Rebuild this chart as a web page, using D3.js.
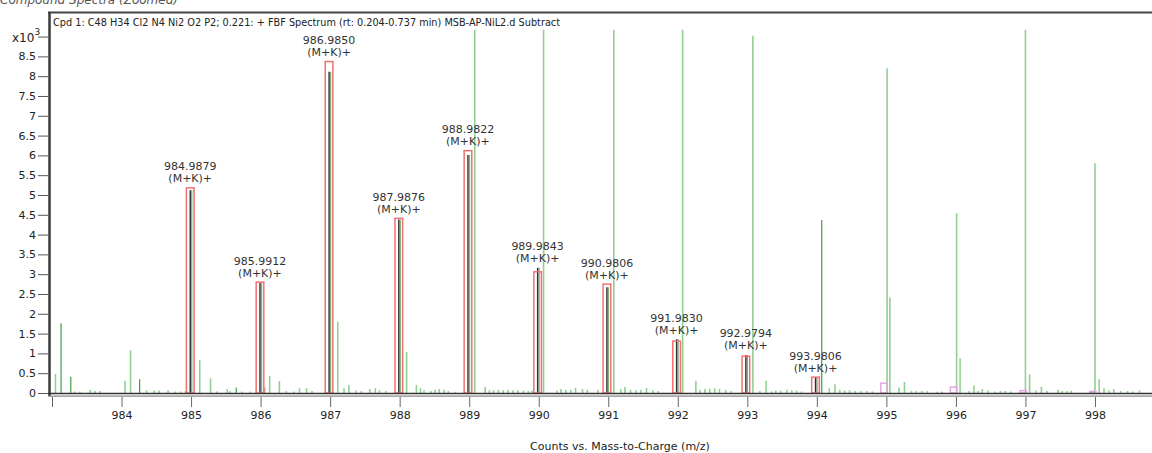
<!DOCTYPE html>
<html>
<head>
<meta charset="utf-8">
<script src="https://cdn.jsdelivr.net/npm/d3@7"></script>
<style>
  html, body { margin: 0; padding: 0; background: #fff; }
  svg { display: block; font-family: "DejaVu Sans", sans-serif; }
</style>
</head>
<body>
<div id="chart"></div>
<script>
// labelled isotope peaks (m/z, observed height, predicted box height), counts x10^3
const peakMz   = [984.9879, 985.9912, 986.9850, 987.9876, 988.9822, 989.9843, 990.9806, 991.9830, 992.9794, 993.9806];
const peakObs  = [5.12, 2.78, 8.11, 4.38, 6.01, 3.16, 2.67, 1.36, 0.96, 0.40];
const peakPred = [5.18, 2.80, 8.37, 4.41, 6.12, 3.06, 2.75, 1.31, 0.93, 0.40];
const peakTag  = "(M+K)+";

// other spectrum lines, light green
const lightMz = [983.05, 983.33, 983.40, 983.55, 983.62, 983.69, 984.05, 984.13, 984.36, 984.47, 984.54, 984.67, 984.77, 984.85, 984.92,
  985.125, 985.28, 985.37, 985.52, 985.56, 985.73, 985.85,
  986.06, 986.13, 986.27, 986.37, 986.48, 986.56, 986.66, 986.74,
  987.11, 987.20, 987.27, 987.37, 987.45, 987.57, 987.65, 987.71, 987.80,
  988.10, 988.24, 988.30, 988.35, 988.45, 988.51, 988.57, 988.64, 988.70, 988.80,
  989.08, 989.23, 989.29, 989.35, 989.42, 989.49, 989.56, 989.63, 989.70, 989.78, 989.85, 989.90,
  990.07, 990.26, 990.32, 990.39, 990.46, 990.53, 990.63, 990.70, 990.85,
  991.08, 991.18, 991.24, 991.32, 991.40, 991.47, 991.55, 991.64, 991.72,
  992.07, 992.26, 992.32, 992.39, 992.46, 992.53, 992.60, 992.69, 992.77,
  993.08, 993.18, 993.27, 993.35, 993.41, 993.48, 993.57, 993.64, 993.71, 993.78,
  994.18, 994.26, 994.33, 994.40, 994.47, 994.55, 994.63, 994.72, 994.80,
  995.01, 995.05, 995.18, 995.26, 995.36, 995.43, 995.51, 995.59, 995.73, 995.80,
  996.01, 996.06, 996.19, 996.26, 996.32, 996.38, 996.46, 996.56, 996.64, 996.71, 996.79,
  997.00, 997.06, 997.15, 997.23, 997.31, 997.47, 997.53, 997.60, 997.66,
  998.00, 998.06, 998.13, 998.20, 998.27, 998.37, 998.47, 998.54, 998.64];
const lightVal = [0.48, 0.04, 0.03, 0.08, 0.05, 0.05, 0.31, 1.08, 0.07, 0.06, 0.06, 0.07, 0.04, 0.04, 0.05,
  0.83, 0.37, 0.04, 0.10, 0.05, 0.04, 0.04,
  0.14, 0.43, 0.30, 0.05, 0.04, 0.12, 0.12, 0.05,
  1.80, 0.12, 0.20, 0.06, 0.05, 0.10, 0.12, 0.07, 0.05,
  1.04, 0.20, 0.12, 0.07, 0.05, 0.08, 0.10, 0.09, 0.05, 0.03,
  9.17, 0.15, 0.07, 0.07, 0.08, 0.07, 0.08, 0.07, 0.07, 0.06, 0.05, 0.06,
  9.17, 0.06, 0.10, 0.08, 0.08, 0.13, 0.10, 0.08, 0.08,
  9.17, 0.10, 0.15, 0.08, 0.07, 0.08, 0.13, 0.07, 0.05,
  9.17, 0.31, 0.08, 0.10, 0.10, 0.12, 0.10, 0.08, 0.05,
  9.02, 0.05, 0.31, 0.04, 0.06, 0.06, 0.08, 0.06, 0.06, 0.04,
  0.12, 0.22, 0.08, 0.06, 0.07, 0.05, 0.05, 0.05, 0.04,
  8.20, 2.41, 0.14, 0.28, 0.05, 0.05, 0.05, 0.05, 0.03, 0.04,
  4.54, 0.88, 0.05, 0.19, 0.05, 0.10, 0.06, 0.04, 0.05, 0.05, 0.04,
  9.17, 0.47, 0.06, 0.16, 0.05, 0.08, 0.05, 0.05, 0.06,
  5.80, 0.35, 0.12, 0.06, 0.10, 0.05, 0.05, 0.04, 0.07];

// darker green lines
const darkMz  = [983.13, 983.27, 984.26, 985.65, 994.07];
const darkVal = [1.76, 0.41, 0.35, 0.14, 4.37];

// lavender pattern boxes
const ghostMz  = [994.965, 995.965, 996.97, 997.97];
const ghostVal = [0.25, 0.15, 0.06, 0.04];

const yTickVals  = [0, 0.5, 1, 1.5, 2, 2.5, 3, 3.5, 4, 4.5, 5, 5.5, 6, 6.5, 7, 7.5, 8, 8.5, 9];
const xTickVals  = [984, 985, 986, 987, 988, 989, 990, 991, 992, 993, 994, 995, 996, 997, 998];

const width = 1152, height = 453;
const plot = { left: 52, right: 1152, top: 14, bottom: 393 };

const svg = d3.select("#chart").append("svg")
  .attr("width", width).attr("height", height);

const x = d3.scaleLinear().domain([983.0, 998.82]).range([plot.left, plot.right]);
const y = d3.scaleLinear().domain([0, 9.57]).range([plot.bottom, plot.top]);

svg.append("defs").append("clipPath").attr("id", "clip")
  .append("rect").attr("x", 50).attr("y", plot.top)
  .attr("width", plot.right - 50).attr("height", plot.bottom - plot.top);

// header texts
svg.append("text").attr("x", 0).attr("y", 4)
  .attr("font-size", 12).attr("font-style", "italic").attr("fill", "#555")
  .text("Compound Spectra (Zoomed)");

svg.append("text").attr("x", 53).attr("y", 26)
  .attr("font-size", 11).attr("fill", "#222")
  .attr("textLength", 507).attr("lengthAdjust", "spacingAndGlyphs")
  .text("Cpd 1: C48 H34 Cl2 N4 Ni2 O2 P2; 0.221: + FBF Spectrum (rt: 0.204-0.737 min) MSB-AP-NiL2.d  Subtract");

const xl = svg.append("text").attr("x", 12).attr("y", 42)
  .attr("font-size", 12).attr("fill", "#222");
xl.append("tspan").text("x10");
xl.append("tspan").attr("dy", -7).attr("font-size", 9).text("3");

const g = svg.append("g").attr("clip-path", "url(#clip)");

// spectrum lines
g.selectAll("line.light").data(d3.zip(lightMz, lightVal)).join("line")
  .attr("class", "light")
  .attr("x1", d => x(d[0])).attr("x2", d => x(d[0]))
  .attr("y1", y(0)).attr("y2", d => y(d[1]))
  .attr("stroke", "#92cf92").attr("stroke-width", 1.6);

g.selectAll("line.dark").data(d3.zip(darkMz, darkVal)).join("line")
  .attr("class", "dark")
  .attr("x1", d => x(d[0])).attr("x2", d => x(d[0]))
  .attr("y1", y(0)).attr("y2", d => y(d[1]))
  .attr("stroke", "#3f9f3f").attr("stroke-width", 1.2);

// lavender boxes
g.selectAll("rect.ghost").data(d3.zip(ghostMz, ghostVal)).join("rect")
  .attr("class", "ghost")
  .attr("x", d => x(d[0] - 0.045)).attr("width", d => x(d[0] + 0.045) - x(d[0] - 0.045))
  .attr("y", d => y(d[1])).attr("height", d => y(0) - y(d[1]))
  .attr("fill", "none").attr("stroke", "#e2a6e2").attr("stroke-width", 1.5);

const peaks = peakMz.map((m, i) => ({ m, obs: peakObs[i], pred: peakPred[i] }));

// green shadow of observed peaks
g.selectAll("line.shadow").data(peaks).join("line")
  .attr("class", "shadow")
  .attr("x1", d => x(d.m) + 1.5).attr("x2", d => x(d.m) + 1.5)
  .attr("y1", y(0)).attr("y2", d => y(d.obs))
  .attr("stroke", "#7fb07f").attr("stroke-width", 1.3);

// observed (black)
g.selectAll("line.obs").data(peaks).join("line")
  .attr("class", "obs")
  .attr("x1", d => x(d.m)).attr("x2", d => x(d.m))
  .attr("y1", y(0)).attr("y2", d => y(d.obs))
  .attr("stroke", "#2e2e2e").attr("stroke-width", 1.4);

// predicted (red boxes)
g.selectAll("rect.pred").data(peaks).join("rect")
  .attr("class", "pred")
  .attr("x", d => x(d.m - 0.055)).attr("width", d => x(d.m + 0.055) - x(d.m - 0.055))
  .attr("y", d => y(d.pred)).attr("height", d => y(0) - y(d.pred))
  .attr("fill", "none").attr("stroke", "#f27070").attr("stroke-width", 1.5);

// peak labels
const lab = svg.append("g").attr("font-size", 11).attr("fill", "#333").attr("text-anchor", "middle");
peaks.forEach(d => {
  const top = y(Math.max(d.obs, d.pred));
  lab.append("text").attr("x", x(d.m)).attr("y", top - 17.5).text(d.m.toFixed(4));
  lab.append("text").attr("x", x(d.m)).attr("y", top - 5.5).text(peakTag);
});

// frame
svg.append("line").attr("x1", 48).attr("x2", width).attr("y1", 12.5).attr("y2", 12.5)
  .attr("stroke", "#444").attr("stroke-width", 2);
svg.append("line").attr("x1", 49.5).attr("x2", 49.5).attr("y1", 12).attr("y2", 396)
  .attr("stroke", "#3a3a3a").attr("stroke-width", 2.5);
svg.append("line").attr("x1", 48).attr("x2", width).attr("y1", 393.5).attr("y2", 393.5)
  .attr("stroke", "#333").attr("stroke-width", 1.6);
svg.append("line").attr("x1", 48).attr("x2", width).attr("y1", 396.2).attr("y2", 396.2)
  .attr("stroke", "#888").attr("stroke-width", 1.2);

// y axis
const yAxis = d3.axisLeft(y).tickValues(yTickVals).tickSize(10).tickPadding(2)
  .tickFormat(d => d === 9 ? "" : d3.format("")(d));
svg.append("g").attr("transform", "translate(48,0)").call(yAxis)
  .call(a => a.select(".domain").remove())
  .call(a => a.selectAll("line").attr("stroke", "#555"))
  .call(a => a.selectAll("text").attr("font-size", 11).attr("fill", "#222")
    .attr("font-family", "DejaVu Sans, sans-serif"));

// x axis
const xAxis = d3.axisBottom(x).tickValues([983.0].concat(xTickVals)).tickSize(10).tickPadding(4)
  .tickFormat(d => d === 983 ? "" : d3.format("d")(d));
svg.append("g").attr("transform", "translate(0,397)").call(xAxis)
  .call(a => a.select(".domain").remove())
  .call(a => a.selectAll("line").attr("stroke", "#666"))
  .call(a => a.selectAll("text").attr("font-size", 11).attr("fill", "#222")
    .attr("font-family", "DejaVu Sans, sans-serif"));

svg.append("text").attr("x", 620).attr("y", 450)
  .attr("font-size", 11).attr("fill", "#222").attr("text-anchor", "middle")
  .text("Counts vs. Mass-to-Charge (m/z)");
</script>
</body>
</html>
